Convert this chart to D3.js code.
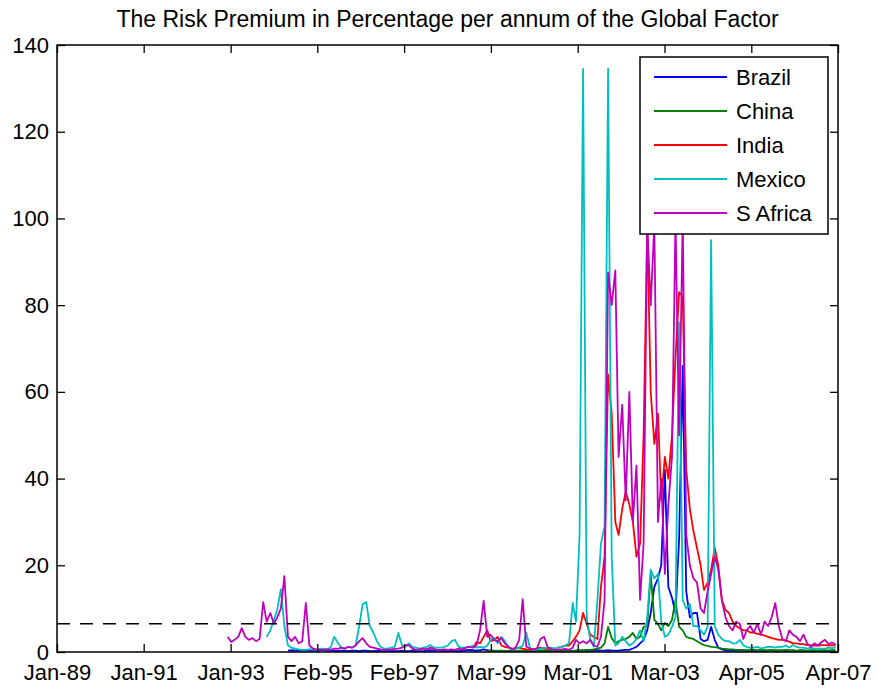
<!DOCTYPE html>
<html>
<head>
<meta charset="utf-8">
<script src="https://cdn.jsdelivr.net/npm/d3@7"></script>
<style>
  body { margin: 0; background: #fff; }
  svg { display: block; font-family: "Liberation Sans", Arial, sans-serif; }
</style>
</head>
<body>
<div id="chart"></div>
<script>
const categories = ["Brazil", "China", "India", "Mexico", "S Africa"];
const seriesStart = ["1994-06", "1999-02", "1998-10", "1993-12", "1993-01"];

const brazil = [
  0.3, 0.4, 0.3, 0.3, 0.4, 0.3, 0.3,
  0.4, 0.3, 0.4, 0.5, 0.3, 0.3, 0.3, 0.2, 0.3, 0.3, 0.2, 0.3,
  0.3, 0.2, 0.3, 0.3, 0.2, 0.2, 0.3, 0.2, 0.2, 0.3, 0.2, 0.2,
  0.2, 0.3, 0.2, 0.2, 0.3, 0.2, 0.2, 0.2, 0.3, 0.4, 0.3, 0.3,
  0.3, 0.2, 0.2, 0.3, 0.2, 0.2, 0.3, 0.4, 0.5, 0.4, 0.3, 0.4,
  0.6, 0.4, 0.3, 0.3, 0.2, 0.3, 0.2, 0.2, 0.3, 0.2, 0.2, 0.3,
  0.2, 0.3, 0.2, 0.2, 0.3, 0.2, 0.2, 0.2, 0.3, 0.2, 0.2, 0.3,
  0.3, 0.2, 0.3, 0.3, 0.3, 0.2, 0.3, 0.3, 0.4, 0.3, 0.3, 0.4,
  0.3, 0.3, 0.3, 0.4, 0.5, 0.5, 0.8, 1.2, 2.0, 2.8, 5.0, 9.0,
  15, 17, 20, 42, 15, 12.5, 9, 26, 66, 14, 8, 9,
  9, 3, 2.5, 2.8, 5.8, 2.8, 1.0, 0.6, 0.4, 0.3, 0.3, 0.3,
  0.3, 0.3, 0.2, 0.3, 0.3, 0.2, 0.3, 0.2, 0.3, 0.3, 0.2, 0.3,
  0.3, 0.2, 0.3, 0.3, 0.2, 0.3, 0.3, 0.2, 0.3, 0.2, 0.3, 0.3,
  0.2, 0.3, 0.3, 0.2
];

const china = [
  0.2, 0.3, 0.2, 0.3, 0.3, 0.2, 0.3, 0.3, 0.2, 0.3, 0.3,
  0.3, 0.2, 0.3, 0.3, 0.4, 0.3, 0.3, 0.2, 0.3, 0.3, 0.3, 0.4,
  0.3, 0.3, 0.3, 0.4, 0.4, 0.5, 0.5, 0.6, 0.8, 1.0, 2.0, 5.8,
  3.2, 2.0, 2.5, 2.8, 3.0, 3.5, 4.4, 3.0, 3.5, 5.8, 6.0, 18,
  7.4, 6.5, 5.0, 6.7, 6.0, 7.4, 12, 5.8, 5.0, 3.5, 3.2, 3.0,
  2.5, 2.0, 1.6, 1.4, 1.2, 1.1, 1.0, 0.8, 0.7, 0.6, 0.6, 0.5,
  0.5, 0.5, 0.4, 0.5, 0.5, 0.4, 0.5, 0.4, 0.4, 0.5, 0.4, 0.4,
  0.4, 0.5, 0.4, 0.4, 0.3, 0.4, 0.4, 0.3, 0.4, 0.4, 0.3, 0.4,
  0.4, 0.3, 0.4, 0.4
];

const india = [
  1.0, 2.3, 2.0,
  3.5, 5.0, 2.5, 2.8, 3.5, 1.5, 1.2, 1.0, 0.8, 0.8, 1.0, 0.8,
  0.6, 0.5, 0.6, 0.8, 1.0, 0.8, 0.6, 0.7, 0.8, 1.0, 1.2, 1.5,
  1.5, 2.5, 3.5, 5.0, 9.0, 6.5, 4.0, 3.5, 3.0, 15, 22, 64,
  55, 30, 27, 33, 37, 34, 30, 22, 25, 50, 98, 60,
  48, 55, 35, 45, 40, 50, 68, 83, 82, 42, 33, 28,
  24, 20, 14.3, 16, 19, 24, 20, 12, 9.7, 9.0, 7.0, 6.0,
  5.5, 5.0, 5.0, 4.5, 4.5, 4.2, 4.0, 3.8, 3.5, 3.2, 3.0, 2.8,
  2.8, 2.6, 2.4, 2.0, 2.0, 1.8, 1.8, 1.6, 1.6, 1.5, 1.5, 1.6,
  1.6, 1.5, 1.6, 1.5
];

const mexico = [
  3.5,
  5.0, 7.4, 9.7, 14.5, 6.0, 1.5, 1.0, 0.8, 0.6, 0.5, 0.5, 0.6,
  0.6, 0.5, 0.7, 0.8, 0.6, 1.0, 3.5, 2.2, 1.0, 0.8, 1.2, 1.0,
  1.5, 6.0, 11.0, 11.5, 6.0, 4.5, 2.5, 1.2, 0.8, 0.8, 1.0, 1.2,
  4.4, 1.5, 1.2, 2.0, 1.2, 1.0, 0.8, 1.0, 1.2, 1.6, 1.0, 1.0,
  1.0, 1.2, 1.5, 2.5, 2.8, 1.2, 1.0, 1.0, 1.2, 1.4, 1.0, 1.2,
  1.0, 1.5, 2.8, 3.2, 2.0, 3.5, 2.5, 1.2, 0.6, 0.8, 1.0, 1.5,
  4.4, 1.0, 0.5, 0.6, 0.8, 1.0, 0.9, 1.0, 0.8, 1.0, 1.2, 1.5,
  2.0, 11.3, 7.0, 27, 134.5, 8.0, 2.8, 1.2, 12, 25, 29, 134.5,
  22, 1.5, 2.0, 3.5, 2.5, 1.5, 2.0, 3.0, 5.0, 2.5, 8.0, 19,
  17, 18, 7.0, 3.5, 4.0, 5.8, 8.0, 76, 12, 10, 11, 6.0,
  6.0, 5.0, 4.0, 5.8, 95, 6.0, 4.0, 3.0, 2.5, 2.5, 2.0, 2.0,
  2.8, 1.5, 1.2, 1.0, 1.0, 1.2, 0.8, 1.0, 1.2, 1.2, 1.0, 1.2,
  1.2, 1.5, 1.0, 1.6, 1.2, 1.0, 1.0, 0.8, 1.0, 0.8, 0.8, 0.8,
  0.8, 1.0, 0.9, 1.0
];

const sAfrica = [
  3.5, 2.3, 2.8, 3.5, 5.5, 3.5, 2.8, 3.2, 2.5, 3.0, 11.5, 7.0,
  9.0, 6.5, 8.0, 10, 17.5, 3.5, 2.5, 3.5, 2.0, 2.5, 11.3, 1.5,
  0.8, 0.6, 0.5, 0.5, 0.6, 0.5, 0.8, 0.7, 1.0, 0.8, 1.2, 1.0,
  1.5, 2.5, 3.2, 2.0, 1.2, 1.0, 0.8, 0.6, 0.5, 0.5, 0.6, 0.7,
  0.8, 1.0, 1.5, 1.6, 0.8, 0.5, 0.6, 0.8, 0.6, 1.0, 0.7, 0.5,
  0.5, 0.6, 0.5, 0.6, 0.5, 0.8, 0.6, 1.0, 1.2, 1.0, 1.5, 5.0,
  11.8, 3.5, 4.0, 2.8, 2.5, 3.2, 2.0, 1.2, 0.6, 1.0, 2.8, 12.2,
  1.2, 0.8, 0.6, 0.8, 3.0, 3.5, 1.2, 0.6, 0.5, 0.5, 0.6, 0.7,
  0.5, 1.0, 2.8, 2.0, 2.5, 2.0, 2.8, 1.5, 1.2, 3.5, 12, 87.5,
  80, 88, 45, 57, 35, 60, 30, 43, 12, 25, 99, 80,
  99, 30, 40, 18, 34, 45, 100, 50, 100, 27, 20, 17,
  16, 10, 9.0, 14, 18, 22, 19, 12, 8.0, 6.0, 5.0, 7.0,
  6.5, 3.0, 5.0, 6.0, 4.5, 6.5, 4.0, 7.0, 6.0, 8.0, 11.3, 6.0,
  3.0, 2.5, 5.0, 4.0, 3.5, 2.5, 4.0, 2.0, 1.2, 2.0, 1.5, 2.3,
  2.8, 1.8, 2.2, 1.8
];

const xTickDates = ["1989-01-01", "1991-01-13", "1993-01-26", "1995-02-07", "1997-02-19",
                    "1999-03-04", "2001-03-16", "2003-03-29", "2005-04-10", "2007-04-22"];
const xTickLabels = ["Jan-89", "Jan-91", "Jan-93", "Feb-95", "Feb-97",
                     "Mar-99", "Mar-01", "Mar-03", "Apr-05", "Apr-07"];
const yTicks = [0, 20, 40, 60, 80, 100, 120, 140];
const threshold = 6.5;

// ---- chart ----
const seriesValues = [brazil, china, india, mexico, sAfrica];
const colors = ["#0000ff", "#008000", "#ff0000", "#00bfbf", "#bf00bf"];

const width = 877, height = 690;
const margin = { top: 45, right: 39, bottom: 38, left: 57 };
const iw = width - margin.left - margin.right;
const ih = height - margin.top - margin.bottom;

const parseDay = d3.utcParse("%Y-%m-%d");
const parseMonth = d3.utcParse("%Y-%m");
const tickDates = xTickDates.map(parseDay);

const svg = d3.select("#chart").append("svg")
    .attr("width", width)
    .attr("height", height);

const g = svg.append("g")
    .attr("transform", `translate(${margin.left},${margin.top})`);

const x = d3.scaleUtc()
    .domain([tickDates[0], tickDates[tickDates.length - 1]])
    .range([0, iw]);
const y = d3.scaleLinear().domain([0, 140]).range([ih, 0]);

g.append("clipPath").attr("id", "plotclip")
    .append("rect").attr("width", iw).attr("height", ih);

const series = categories.map((name, k) => {
    const start = parseMonth(seriesStart[k]);
    return {
        name,
        color: colors[k],
        points: seriesValues[k].map((v, i) => ({ date: d3.utcMonth.offset(start, i), value: v }))
    };
});

const line = d3.line()
    .x(d => x(d.date))
    .y(d => y(d.value));

const plot = g.append("g").attr("clip-path", "url(#plotclip)");

plot.selectAll(".series")
    .data(series)
    .enter()
    .append("path")
    .attr("class", "series")
    .attr("d", d => line(d.points))
    .style("fill", "none")
    .style("stroke", d => d.color)
    .style("stroke-width", 1.8)
    .style("stroke-linejoin", "round");

// threshold line
plot.append("line")
    .attr("x1", 0).attr("x2", iw)
    .attr("y1", y(threshold)).attr("y2", y(threshold))
    .style("stroke", "#000")
    .style("stroke-width", 1.5)
    .style("stroke-dasharray", "13,10");

// axes
const fontSize = 22;
const bottomAxis = g.append("g")
    .attr("transform", `translate(0,${ih})`)
    .call(d3.axisBottom(x).tickValues(tickDates)
        .tickFormat((d, i) => xTickLabels[i])
        .tickSizeInner(-8).tickSizeOuter(0).tickPadding(12));

const topAxis = g.append("g")
    .call(d3.axisTop(x).tickValues(tickDates)
        .tickFormat("").tickSizeInner(-8).tickSizeOuter(0));

const leftAxis = g.append("g")
    .call(d3.axisLeft(y).tickValues(yTicks)
        .tickSizeInner(-8).tickSizeOuter(0).tickPadding(8));

const rightAxis = g.append("g")
    .attr("transform", `translate(${iw},0)`)
    .call(d3.axisRight(y).tickValues(yTicks)
        .tickFormat("").tickSizeInner(-8).tickSizeOuter(0));

[bottomAxis, topAxis, leftAxis, rightAxis].forEach(a => {
    a.select(".domain").remove();
    a.selectAll(".tick line").style("stroke", "#000").style("stroke-width", 1.3);
    a.selectAll("text")
        .style("font-size", fontSize + "px")
        .style("font-family", "'Liberation Sans', Arial, sans-serif")
        .style("fill", "#000");
});

g.append("rect")
    .attr("width", iw).attr("height", ih)
    .style("fill", "none")
    .style("stroke", "#000")
    .style("stroke-width", 1.5);

// title
svg.append("text")
    .attr("x", margin.left + iw / 2)
    .attr("y", 27)
    .attr("text-anchor", "middle")
    .style("font-size", "23px")
    .text("The Risk Premium in Percentage per annum of the Global Factor");

// legend
const legend = svg.append("g").attr("transform", "translate(640,57)");
legend.append("rect")
    .attr("width", 188).attr("height", 177)
    .style("fill", "#fff")
    .style("stroke", "#000")
    .style("stroke-width", 1.5);

const rowH = 34;
const items = legend.selectAll(".item")
    .data(series)
    .enter()
    .append("g")
    .attr("class", "item")
    .attr("transform", (d, i) => `translate(0,${20 + i * rowH})`);

items.append("line")
    .attr("x1", 14).attr("x2", 87)
    .style("stroke", d => d.color)
    .style("stroke-width", 1.8);

items.append("text")
    .attr("x", 96)
    .attr("dy", "0.35em")
    .style("font-size", fontSize + "px")
    .text(d => d.name);
</script>
</body>
</html>
